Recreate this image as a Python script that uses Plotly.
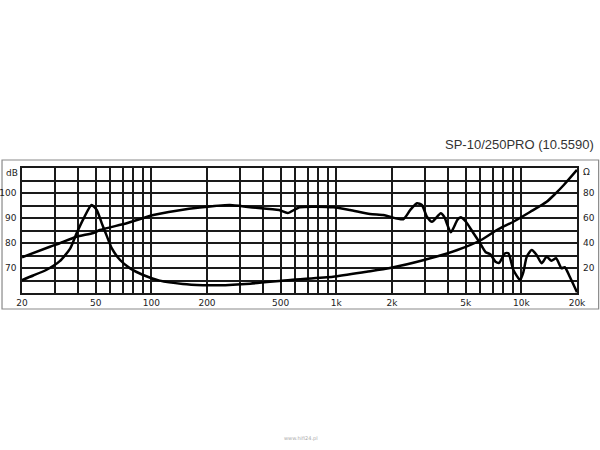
import plotly.graph_objects as go
import numpy as np

# Impedance curve (Hz, Ohm)
imp_freq = [20, 23, 27, 32, 36.4, 39.4, 43.1, 47.5, 50.7, 54, 57.5, 61.2, 67.8, 76.8, 90.3, 111,
            148, 190, 230, 342, 564, 961, 1459, 1950, 2980, 4510, 6070, 7380, 9060, 11200,
            13710, 15030, 16970, 20000]
imp_ohm = [10.4, 14.0, 18.4, 25.5, 35.5, 47.5, 59.7, 70.4, 66.4, 55.7, 45.5, 35.7, 26.4, 19.7, 14.4, 9.9,
           7.2, 6.3, 6.2, 7.5, 10.5, 13, 17, 20, 26.4, 34.4, 42.4, 50.4, 57, 65,
           73, 78.4, 86.4, 98.5]

# SPL curve (Hz, dB)
spl_freq = [20, 28.3, 32, 39.4, 48.6, 52.7, 73.6, 102.6, 137, 183, 266, 342, 491, 546, 634, 964,
            1186, 1520, 1790, 1950, 2300, 2510, 2730, 2900, 3090, 3290, 3670, 3830, 4160, 4510,
            4700, 5020, 5450, 5920, 6420, 6800, 7260, 7590, 8170, 8520, 9060, 9850, 10270, 10700,
            11380, 12100, 12880, 13710, 14560, 15420, 16490, 17180, 18280, 20000]
spl_db = [74.3, 78.5, 79.9, 82.5, 84.0, 85.2, 87.9, 91.2, 92.9, 94.2, 95.2, 94.3, 93.2, 92.0, 94.3, 94.3,
          93.2, 91.6, 91.2, 90.5, 89.5, 93.2, 95.9, 95.2, 90.5, 88.5, 91.9, 90.5, 84.3, 89.2,
          90.3, 88.5, 84.5, 80.5, 76.3, 75.5, 72.5, 72.1, 75.9, 75.9, 69.2, 65.2, 68.5, 74.5,
          77.2, 75.2, 71.9, 74.5, 72.9, 73.9, 69.9, 70.3, 66.5, 60.3]

# Axis ticks
x_grid = [20, 30, 40, 50, 60, 70, 80, 90, 100, 200, 300, 400, 500, 600, 700, 800, 900,
          1000, 2000, 3000, 4000, 5000, 6000, 7000, 8000, 9000, 10000, 20000]
x_labels = {20: "20", 50: "50", 100: "100", 200: "200", 500: "500", 1000: "1k",
            2000: "2k", 5000: "5k", 10000: "10k", 20000: "20k"}
db_grid = [60, 65, 70, 75, 80, 85, 90, 95, 100, 105, 110]
db_labels = {70: "70", 80: "80", 90: "90", 100: "100"}
ohm_ticks = [20, 40, 60, 80]
title_text = "SP-10/250PRO (10.5590)"

fig = go.Figure()
fig.add_trace(go.Scatter(x=spl_freq, y=spl_db, mode="lines",
                         line=dict(color="black", width=2.5, shape="spline", smoothing=0.6),
                         hoverinfo="skip", showlegend=False))
fig.add_trace(go.Scatter(x=imp_freq, y=imp_ohm, mode="lines", yaxis="y2",
                         line=dict(color="black", width=2.5, shape="spline", smoothing=0.6),
                         hoverinfo="skip", showlegend=False))

lab_font = dict(family="DejaVu Sans", size=9, color="#222")
fig.update_layout(
    template="none",
    width=600, height=450,
    margin=dict(l=22, r=23, t=168, b=157, autoexpand=False),
    paper_bgcolor="white", plot_bgcolor="white",
    xaxis=dict(type="log", range=[np.log10(20), np.log10(20000)], automargin=False,
               tickvals=x_grid, ticktext=[x_labels.get(v, "") for v in x_grid],
               showgrid=True, gridcolor="#1a1a1a", gridwidth=1.5,
               showline=True, linecolor="#1a1a1a", linewidth=1.5, mirror=True,
               ticks="", tickfont=lab_font, zeroline=False),
    yaxis=dict(range=[60, 110], tickvals=db_grid, automargin=False,
               ticktext=[db_labels.get(v, "") for v in db_grid],
               showgrid=True, gridcolor="#1a1a1a", gridwidth=1.5,
               showline=True, linecolor="#1a1a1a", linewidth=1.5, mirror=True,
               ticks="", tickfont=lab_font, zeroline=False, ticklabelstandoff=2),
    yaxis2=dict(range=[0, 100], overlaying="y", side="right", tickvals=ohm_ticks,
                automargin=False,
                ticktext=[str(v) for v in ohm_ticks], showgrid=False, zeroline=False,
                showline=False, ticks="", tickfont=lab_font, ticklabelstandoff=5),
    shapes=[dict(type="rect", xref="paper", yref="paper",
                 x0=-0.036, x1=1.039, y0=-0.128, y1=1.064,
                 line=dict(color="#8a8a8a", width=1.2), layer="below")],
    annotations=[
        dict(text="dB", xref="paper", yref="paper", x=-0.004, y=0.96, xanchor="right",
             yanchor="middle", showarrow=False, font=lab_font),
        dict(text="Ω", xref="paper", yref="paper", x=1.008, y=0.968, xanchor="left",
             yanchor="middle", showarrow=False, font=lab_font),
        dict(text=title_text, xref="paper", yref="paper", x=1.034, y=1.19, xanchor="right",
             yanchor="middle", showarrow=False,
             font=dict(family="Liberation Sans", size=13, color="#333")),
        dict(text="www.hifi24.pl", xref="paper", yref="paper", x=0.503, y=-1.16,
             xanchor="center", yanchor="middle", showarrow=False,
             font=dict(family="DejaVu Sans", size=5, color="#aaa")),
    ],
)
fig.write_html("out.html", config={"displayModeBar": False},
               post_script="document.body.style.margin='0';document.body.style.overflow='hidden';")
